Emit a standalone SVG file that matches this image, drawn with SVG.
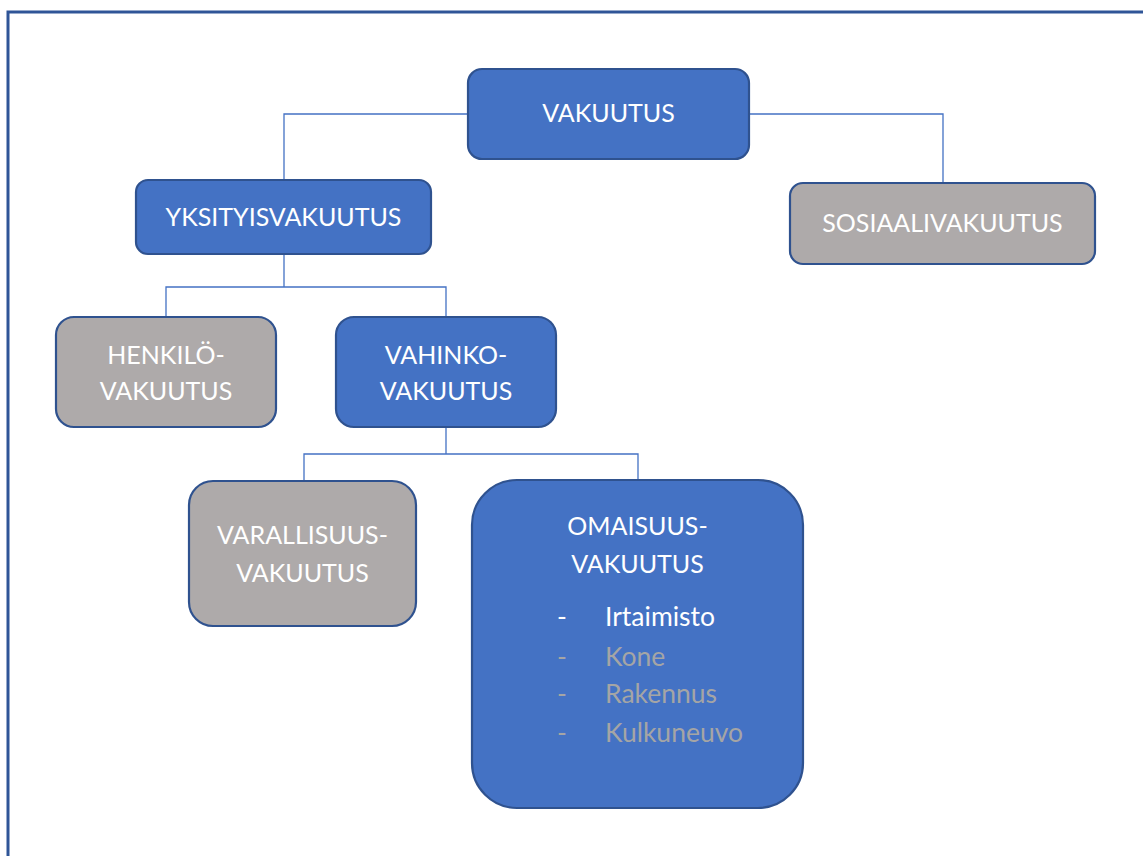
<svg xmlns="http://www.w3.org/2000/svg" width="1143" height="856" viewBox="0 0 1143 856">
  <style>
    .frame { fill: none; stroke: #2F5597; stroke-width: 3; }
    .conn { fill: none; stroke: #4472C4; stroke-width: 1.3; }
    .blue { fill: #4472C4; stroke: #2F528F; stroke-width: 2.2; }
    .gray { fill: #AEAAAA; stroke: #2F528F; stroke-width: 2.2; }
    .lbl { font-family: Lato, "Open Sans", "Liberation Sans", sans-serif; font-size: 25px; fill: #FFFFFF; text-anchor: middle; }
    .item { font-family: Lato, "Open Sans", "Liberation Sans", sans-serif; font-size: 26.5px; }
    .on { fill: #FFFFFF; }
    .off { fill: #A5A5A5; }
  </style>
  <rect width="1143" height="856" fill="#FFFFFF"/>
  <!-- page border -->
  <path class="frame" d="M8,858 V12 H1145"/>

  <g id="connectors">
    <path class="conn" d="M468,114 H284 V180"/>
    <path class="conn" d="M749,114 H943 V183"/>
    <path class="conn" d="M284,254 V287 M166,317 V287 H446 V317"/>
    <path class="conn" d="M446,427 V454 M304,481 V454 H638 V480"/>
  </g>

  <g id="vakuutus">
    <rect class="blue" x="468" y="69" width="281" height="90" rx="14"/>
    <text class="lbl" x="608.5" y="122">VAKUUTUS</text>
  </g>

  <g id="yksityisvakuutus">
    <rect class="blue" x="136" y="180" width="295" height="74" rx="12"/>
    <text class="lbl" x="283.5" y="226">YKSITYISVAKUUTUS</text>
  </g>

  <g id="sosiaalivakuutus">
    <rect class="gray" x="790" y="183" width="305" height="81" rx="13"/>
    <text class="lbl" x="942.5" y="232">SOSIAALIVAKUUTUS</text>
  </g>

  <g id="henkilovakuutus">
    <rect class="gray" x="56" y="317" width="220" height="110" rx="18"/>
    <text class="lbl" x="166" y="364">HENKILÖ-</text>
    <text class="lbl" x="166" y="400">VAKUUTUS</text>
  </g>

  <g id="vahinkovakuutus">
    <rect class="blue" x="336" y="317" width="220" height="110" rx="18"/>
    <text class="lbl" x="446" y="364">VAHINKO-</text>
    <text class="lbl" x="446" y="400">VAKUUTUS</text>
  </g>

  <g id="varallisuusvakuutus">
    <rect class="gray" x="189" y="481" width="227" height="145" rx="24"/>
    <text class="lbl" x="302.5" y="544">VARALLISUUS-</text>
    <text class="lbl" x="302.5" y="582">VAKUUTUS</text>
  </g>

  <g id="omaisuusvakuutus">
    <rect class="blue" x="472" y="480" width="331" height="328" rx="45"/>
    <text class="lbl" x="637.5" y="535">OMAISUUS-</text>
    <text class="lbl" x="637.5" y="573">VAKUUTUS</text>
    <text class="item on" x="557" y="626">-</text>
    <text class="item on" x="605" y="626">Irtaimisto</text>
    <text class="item off" x="557" y="666">-</text>
    <text class="item off" x="605" y="666">Kone</text>
    <text class="item off" x="557" y="703">-</text>
    <text class="item off" x="605" y="703">Rakennus</text>
    <text class="item off" x="557" y="742">-</text>
    <text class="item off" x="605" y="742">Kulkuneuvo</text>
  </g>
</svg>
